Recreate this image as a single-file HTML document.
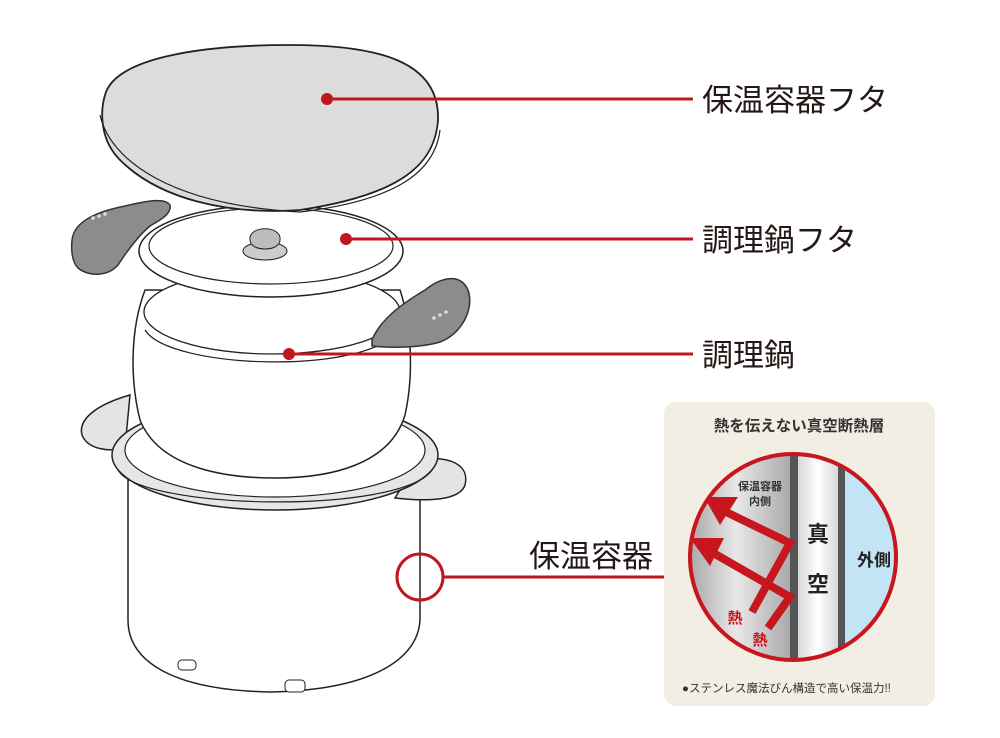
<!DOCTYPE html>
<html><head><meta charset="utf-8"><style>
html,body{margin:0;padding:0;background:#fff;width:1000px;height:738px;overflow:hidden}
svg{display:block}
text{font-family:"Liberation Sans","Noto Sans CJK JP",sans-serif}
</style></head><body>
<svg width="1000" height="738" viewBox="0 0 1000 738" xmlns="http://www.w3.org/2000/svg">
<defs>
<linearGradient id="steel" x1="0" x2="1" y1="0" y2="0">
<stop offset="0" stop-color="#9a9a9a"/><stop offset="0.5" stop-color="#e8e8e8"/><stop offset="1" stop-color="#a8a8a8"/>
</linearGradient>
<linearGradient id="vac" x1="0" x2="1">
<stop offset="0" stop-color="#d8d8d8"/><stop offset="0.5" stop-color="#fff"/><stop offset="1" stop-color="#d8d8d8"/>
</linearGradient>
<clipPath id="cc"><circle cx="793" cy="557" r="103"/></clipPath>
</defs>

<!-- container body -->
<path d="M128,480 L128,620 C128,660 170,690 270,692 C370,690 418,660 420,620 L420,480 Z" fill="#fff" stroke="#222" stroke-width="1.5"/>
<rect x="178" y="660" width="18" height="10" rx="4" fill="#fff" stroke="#222"/>
<rect x="285" y="680" width="20" height="12" rx="4" fill="#fff" stroke="#222"/>
<!-- container handles -->
<path d="M130,395 C95,405 78,420 82,435 C88,450 110,452 125,448 Z" fill="#e4e4e4" stroke="#222" stroke-width="1.5"/>
<path d="M418,460 C450,455 470,465 465,485 C460,500 430,502 395,498 Z" fill="#e4e4e4" stroke="#222" stroke-width="1.5"/>
<!-- container rim -->
<ellipse cx="275" cy="455" rx="163" ry="55" fill="#e6e6e6" stroke="#222" stroke-width="1.5"/>
<ellipse cx="275" cy="450" rx="150" ry="47" fill="#fff" stroke="#222" stroke-width="1.2"/>
<path d="M118,470 C140,510 400,515 432,470" fill="none" stroke="#222" stroke-width="1.2"/>
<!-- pot body -->
<path d="M145,290 C130,330 130,380 140,420 C160,470 230,478 275,478 C330,478 390,465 405,415 C415,370 410,320 400,290 Z" fill="#fff" stroke="#222" stroke-width="1.5"/>
<ellipse cx="272" cy="312" rx="128" ry="42" fill="#fff" stroke="#222" stroke-width="1.3"/>
<path d="M145,330 C170,370 370,375 398,330" fill="none" stroke="#222" stroke-width="1.2"/>
<!-- right handle -->
<path d="M372,340 C380,320 400,305 425,290 C440,278 460,272 468,290 C475,310 460,335 440,342 C420,348 390,348 372,346 Z" fill="#8c8c8c" stroke="#333" stroke-width="1.5"/>
<g fill="#ddd"><circle cx="434" cy="318" r="1.8"/><circle cx="440" cy="315" r="1.8"/><circle cx="446" cy="312" r="1.8"/></g>
<!-- pot lid -->
<ellipse cx="271" cy="251" rx="132" ry="46" fill="#fff" stroke="#222" stroke-width="1.5"/>
<ellipse cx="271" cy="246" rx="122" ry="38" fill="#fff" stroke="#222" stroke-width="1.2"/>
<ellipse cx="265" cy="251" rx="22" ry="9" fill="#ccc" stroke="#222"/>
<path d="M250,240 C248,225 282,225 280,240 C280,252 250,252 250,240 Z" fill="#bdbdbd" stroke="#222"/>
<!-- left handle -->
<path d="M72,240 C74,222 95,212 125,206 C150,200 165,198 170,205 C172,214 160,220 150,226 C138,236 128,250 120,262 C112,276 90,278 78,268 C72,262 71,250 72,240 Z" fill="#8c8c8c" stroke="#333" stroke-width="1.5"/>
<g fill="#ddd"><circle cx="93" cy="218" r="1.8"/><circle cx="99" cy="216" r="1.8"/><circle cx="105" cy="214" r="1.8"/></g>
<!-- top lid -->
<path d="M105,95 C115,58 200,45 290,45 C380,45 440,62 438,120 C435,165 400,195 300,210 C230,215 160,200 120,160 C100,140 100,112 105,95 Z" fill="#dcdcdc" stroke="#222" stroke-width="1.8"/>
<path d="M100,115 C110,160 170,205 300,212 C400,200 435,170 440,130" fill="none" stroke="#222" stroke-width="1.2"/>

<!-- leaders -->
<g stroke="#c0161f" stroke-width="3" fill="none">
<line x1="327" y1="99" x2="693" y2="99"/>
<line x1="346" y1="239" x2="693" y2="239"/>
<line x1="289" y1="354" x2="693" y2="354"/>
<circle cx="420" cy="577" r="23"/>
<line x1="443" y1="577" x2="692" y2="577"/>
</g>
<g fill="#c0161f"><circle cx="327" cy="99" r="6"/><circle cx="346" cy="239" r="6"/><circle cx="289" cy="354" r="6"/></g>

<g font-size="31" fill="#231815">
<text x="702" y="111">保温容器フタ</text>
<text x="702" y="251">調理鍋フタ</text>
<text x="702" y="366">調理鍋</text>
<text x="529" y="567">保温容器</text>
</g>

<!-- panel -->
<rect x="664" y="402" width="271" height="304" rx="12" fill="#f3eee4"/>
<text x="799" y="431" font-size="15.5" font-weight="bold" fill="#333" text-anchor="middle">熱を伝えない真空断熱層</text>
<g clip-path="url(#cc)">
<rect x="680" y="440" width="112" height="240" fill="url(#steel)"/>
<rect x="790" y="440" width="8" height="240" fill="#555"/>
<rect x="798" y="440" width="40" height="240" fill="url(#vac)"/>
<rect x="838" y="440" width="7" height="240" fill="#555"/>
<rect x="845" y="440" width="60" height="240" fill="#c3e4f5"/>
<g stroke="#c8161e" stroke-width="8" fill="none">
<polyline points="722,510 790,543 752,612"/>
<polyline points="708,550 790,597 768,628"/>
</g>
<polygon points="704,497 738,497 720,525" fill="#c8161e"/>
<polygon points="690,538 724,538 710,566" fill="#c8161e"/>
</g>
<circle cx="793" cy="557" r="103" fill="none" stroke="#c8161e" stroke-width="4"/>
<text x="760" y="490" font-size="11" font-weight="bold" fill="#333" text-anchor="middle">保温容器</text>
<text x="760" y="505" font-size="11" font-weight="bold" fill="#333" text-anchor="middle">内側</text>
<text x="818" y="542" font-size="22" font-weight="bold" fill="#222" text-anchor="middle">真</text>
<text x="818" y="592" font-size="22" font-weight="bold" fill="#222" text-anchor="middle">空</text>
<text x="874" y="566" font-size="17" font-weight="bold" fill="#222" text-anchor="middle">外側</text>
<text x="735" y="623" font-size="15" font-weight="bold" fill="#c8161e" text-anchor="middle">熱</text>
<text x="760" y="645" font-size="15" font-weight="bold" fill="#c8161e" text-anchor="middle">熱</text>
<text x="682" y="692" font-size="11.5" fill="#333">●ステンレス魔法びん構造で高い保温力!!</text>
</svg>
</body></html>
